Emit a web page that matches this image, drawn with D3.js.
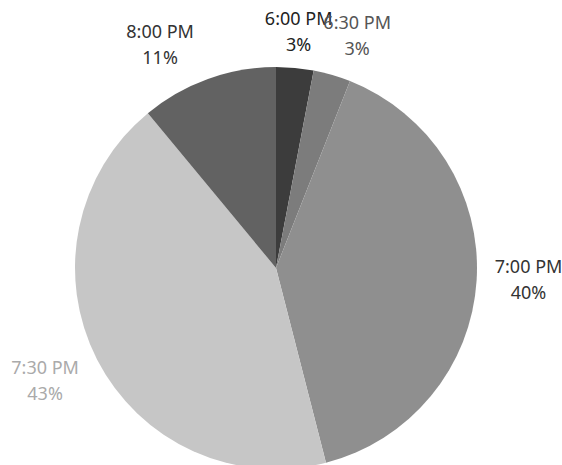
<!DOCTYPE html>
<html>
<head>
<meta charset="utf-8">
<script src="https://cdn.jsdelivr.net/npm/d3@7"></script>
<style>
  body { margin: 0; background: #fff; }
  svg { display: block; }
</style>
</head>
<body>
<svg id="chart" width="562" height="465"></svg>
<script>
// data
const times = ["6:00 PM", "6:30 PM", "7:00 PM", "7:30 PM", "8:00 PM"];
const shares = [3, 3, 40, 43, 11];

// look
const fills = ["#3c3c3c", "#7c7c7c", "#8f8f8f", "#c6c6c6", "#626262"];
const textColors = ["#222", "#555", "#333", "#aaa", "#333"];
// nudges from the default label spot, Excel puts them a bit off
const nudges = [[1, -8], [17, -12], [23, -3], [-26, 8], [-38, -8]];

const cx = 276, cy = 268, r = 201, labelR = 230;

const svg = d3.select("#chart");
const g = svg.append("g").attr("transform", `translate(${cx},${cy})`);

const pie = d3.pie().sort(null).value(d => d)(shares);
const arc = d3.arc().innerRadius(0).outerRadius(r);
const labelArc = d3.arc().innerRadius(labelR).outerRadius(labelR);

g.selectAll("path")
    .data(pie)
    .enter()
    .append("path")
    .attr("d", arc)
    .attr("fill", (d, i) => fills[i]);

const labels = g.selectAll("text")
    .data(pie)
    .enter()
    .append("text")
    .attr("transform", (d, i) => {
        let c = labelArc.centroid(d);
        return `translate(${c[0] + nudges[i][0]},${c[1] + nudges[i][1]})`;
    })
    .attr("text-anchor", "middle")
    .attr("font-family", "'Noto Sans', sans-serif")
    .attr("font-size", 18)
    .attr("fill", (d, i) => textColors[i]);

labels.append("tspan")
    .attr("x", 0)
    .attr("y", -6)
    .text((d, i) => times[i]);

labels.append("tspan")
    .attr("x", 0)
    .attr("y", 20)
    .text(d => d.data + "%");
</script>
</body>
</html>
